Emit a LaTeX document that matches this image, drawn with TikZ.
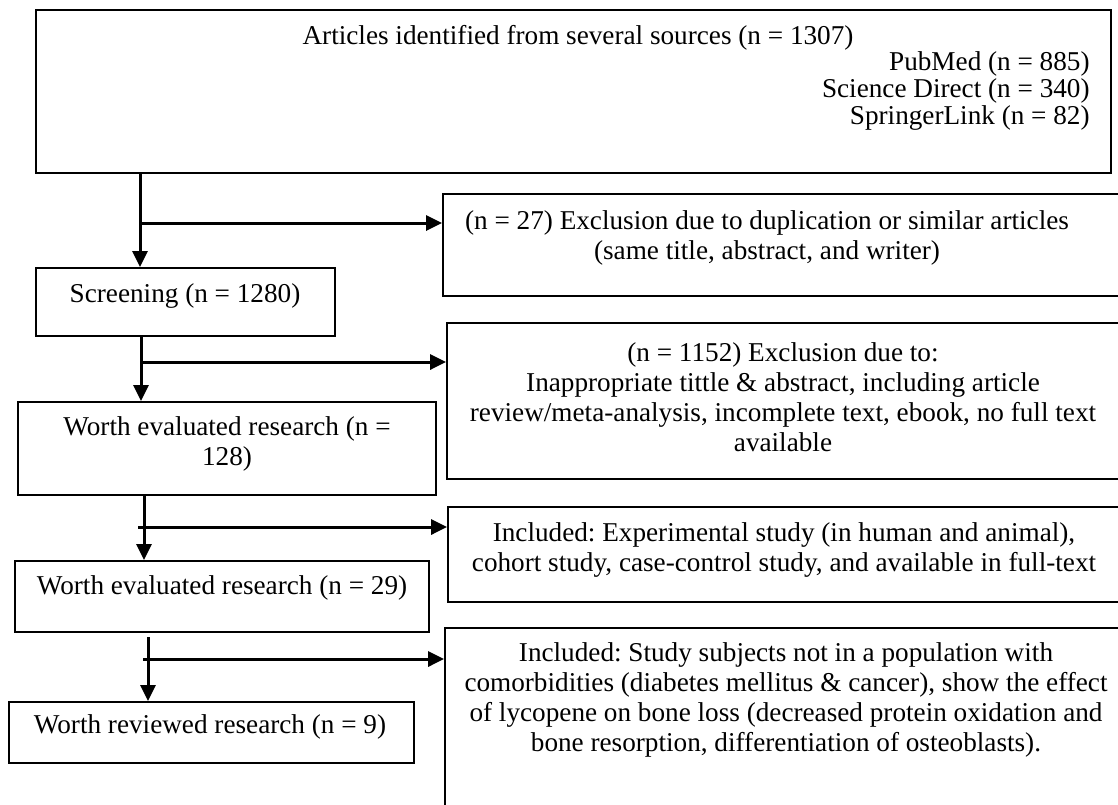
\documentclass[tikz,border=0pt]{standalone}
\usepackage{fontspec}
\setmainfont{Liberation Serif}
\usetikzlibrary{arrows.meta,fit}
\frenchspacing

\begin{document}
\begin{tikzpicture}[x=0.5pt,y=-0.5pt,
    box/.style={draw, line width=0.9pt, inner sep=0pt},
    txt/.style={font=\fontsize{13.6}{15}\selectfont, align=center, inner sep=0pt},
    flow/.style={line width=1.5pt, -{Triangle[length=8pt,width=7.5pt]}}]
    \useasboundingbox (0,0) rectangle (1118,804);

    % boxes
    \node[box, fit={(36,10) (1111,173)}] (src) {};
    \node[box, fit={(36,268) (335,336)}] (scr) {};
    \node[box, fit={(18,402) (436,495)}] (ev1) {};
    \node[box, fit={(15,561) (429,632)}] (ev2) {};
    \node[box, fit={(9,702) (414,763)}] (rev) {};
    \node[box, fit={(443,194) (1130,296)}] (exa) {};
    \node[box, fit={(447,323) (1130,479)}] (exb) {};
    \node[box, fit={(448,507) (1130,602)}] (ina) {};
    \node[box, fit={(445,628) (1130,820)}] (inb) {};

    % texts
    \draw (578,38) node[txt] (tsrc) {Articles identified from several sources (n = 1307)};
    \draw (1090,91) node[txt, align=right, anchor=east,
        font=\fontsize{13.6}{11.2}\selectfont] (tlist)
        {PubMed (n = 885)\\Science Direct (n = 340)\\SpringerLink (n = 82)};
    \draw (185,296) node[txt] (tscr) {Screening (n = 1280)};
    \draw (227,444) node[txt] (tev1) {Worth evaluated research (n =\\128)};
    \draw (222,588) node[txt] (tev2) {Worth evaluated research (n = 29)};
    \draw (210,727) node[txt] (trev) {Worth reviewed research (n = 9)};
    \draw (767,238) node[txt] (texa) {(n = 27) Exclusion due to duplication or similar articles\\(same title, abstract, and writer)};
    \draw (783,397) node[txt] (texb) {(n = 1152) Exclusion due to:\\Inappropriate tittle \& abstract, including article\\review/meta-analysis, incomplete text, ebook, no full text\\available};
    \draw (784,550) node[txt] (tina) {Included: Experimental study (in human and animal),\\cohort study, case-control study, and available in full-text};
    \draw (786,700) node[txt] (tinb) {Included: Study subjects not in a population with\\comorbidities (diabetes mellitus \& cancer), show the effect\\of lycopene on bone loss (decreased protein oxidation and\\bone resorption, differentiation of osteoblasts).};

    % junctions on the main line
    \coordinate (j1) at (140,223);
    \coordinate (j2) at (141,362);
    \coordinate (j3) at (138,527);
    \coordinate (j4) at (143,659);
    \coordinate (g4) at (148,637);

    \draw[flow] (src.south -| j1) -- (scr.north -| j1);
    \draw[flow] (j1) -- (j1 -| exa.west);
    \draw[flow] (scr.south -| j2) -- (ev1.north -| j2);
    \draw[flow] (j2) -- (j2 -| exb.west);
    \draw[flow] (ev1.south -| 144,0) -- (ev2.north -| 144,0);
    \draw[flow] (j3) -- (j3 -| ina.west);
    \draw[flow] (g4) -- (g4 |- rev.north);
    \draw[flow] (j4) -- (j4 -| inb.west);
\end{tikzpicture}
\end{document}
